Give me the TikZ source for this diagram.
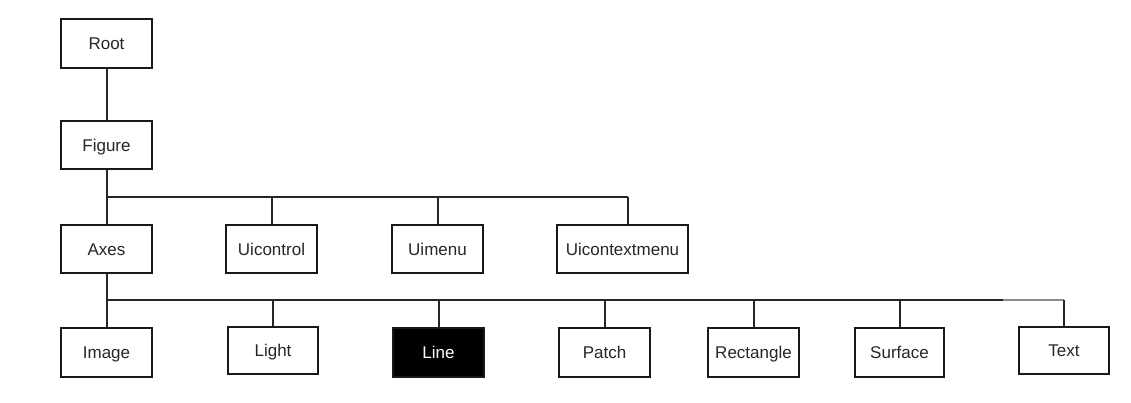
\documentclass[tikz,border=0pt]{standalone}
\usepackage{fontspec}
\setmainfont{Liberation Sans}
\begin{document}
\begin{tikzpicture}[x=1pt,y=-1pt,
  box/.style={draw=black!90, line width=1.8pt, fill=white, rectangle,
    minimum width=91pt, minimum height=48pt, inner sep=0pt,
    text height=12.2pt, text depth=0pt,
    font=\fontsize{17}{20}\selectfont, text=black!85},
  dark/.style={box, fill=black, text=white},
  link/.style={draw=black!85, line width=2pt},
  faint/.style={draw=black!45, line width=1.4pt}]
\useasboundingbox (0,0) rectangle (1131,403);

% top of the hierarchy
\node[box, minimum height=49pt] (root) at (106.5,43.5) {Root};
\node[box] (figure) at (106.5,145) {Figure};

% children of the figure
\node[box] (axes) at (106.5,249) {Axes};
\node[box] (uicontrol) at (271.5,249) {Uicontrol};
\node[box] (uimenu) at (437.5,249) {Uimenu};
\node[box, minimum width=131pt] (uictx) at (622.5,249) {Uicontextmenu};

% children of the axes
\node[box, minimum height=49pt] (image) at (106.5,352.5) {Image};
\node[box, minimum width=90pt, minimum height=47pt] (light) at (273,350.5) {Light};
\node[dark, minimum height=49pt] (line) at (438.5,352.5) {Line};
\node[box, minimum height=49pt] (patch) at (604.5,352.5) {Patch};
\node[box, minimum height=49pt] (rect) at (753.5,352.5) {Rectangle};
\node[box, minimum width=89pt, minimum height=49pt] (surface) at (899.5,352.5) {Surface};
\node[box, minimum width=90pt, minimum height=47pt] (text) at (1064,350.5) {Text};

% bus lines
\coordinate (busA) at (0,197);
\coordinate (busB) at (0,300);
\coordinate (fade) at (1003,300);

% root -> figure
\draw[link] (root.south) -- (figure.north);

% figure -> its children
\draw[link] (figure.south) -- (axes.north);
\draw[link] (axes.north |- busA) -- ([xshift=5pt]uictx.north |- busA);
\draw[link] (uicontrol.north) -- (uicontrol.north |- busA);
\draw[link] (uimenu.north) -- (uimenu.north |- busA);
\draw[link] ([xshift=5pt]uictx.north) -- ([xshift=5pt]uictx.north |- busA);

% axes -> its children
\draw[link] (axes.south) -- (image.north);
\draw[link] (image.north |- busB) -- (fade);
\draw[faint] (fade) -- (text.north |- busB);
\draw[link] (light.north) -- (light.north |- busB);
\draw[link] (line.north) -- (line.north |- busB);
\draw[link] (patch.north) -- (patch.north |- busB);
\draw[link] (rect.north) -- (rect.north |- busB);
\draw[link] (surface.north) -- (surface.north |- busB);
\draw[link] (text.north) -- (text.north |- busB);
\end{tikzpicture}
\end{document}
